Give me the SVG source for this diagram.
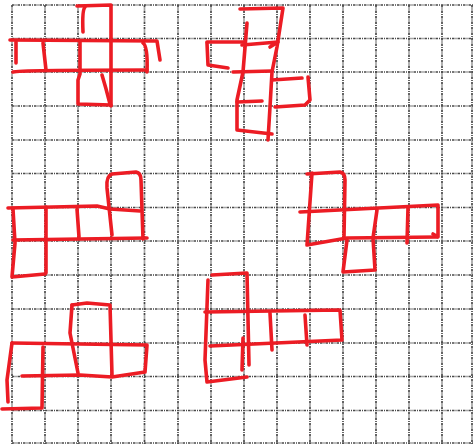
<svg xmlns="http://www.w3.org/2000/svg" width="473" height="444" viewBox="0 0 473 444">
<style>
.g{stroke:#4a4a4a;stroke-width:1.7;stroke-dasharray:2.5 1 1 1;fill:none}
.r{stroke:#ec1c24;stroke-width:3.6;fill:none;stroke-linecap:round;stroke-linejoin:round}
</style>
<rect width="473" height="444" fill="#fff"/>
<g id="grid" class="g">
<path d="M12 5V444M45 5V444M78 5V444M111 5V444M144.5 5V444M178 5V444M211 5V444M244 5V444M277 5V444M310 5V444M343 5V444M376 5V444M409 5V444M442 5V444M472 5V444"/>
<path d="M12 5H473M12 38.5H473M12 72H473M12 106H473M12 140H473M12 173.5H473M12 207.5H473M12 241H473M12 275H473M12 309H473M12 343H473M12 376.5H473M12 410.5H473M12 443H473"/>
</g>
<g id="net1" class="r">
<path d="M77 6L111 5L111 106"/>
<path d="M85 7Q82 10 83 32"/>
<path d="M10 40L157 41L160 60"/>
<path d="M16 42L16 63"/>
<path d="M43 43L46 70"/>
<path d="M80 42L80 74L78 80L78 104L111 105"/>
<path d="M143 43Q148 46 147 72"/>
<path d="M13 72Q18 70 147 70"/>
<path d="M102 75Q106 88 110 104"/>
</g>
<g id="net2" class="r">
<path d="M240 9L283 8L277 47L272 72L270 107L268 140"/>
<path d="M247 23L243 72L237 100L237 130L272 134"/>
<path d="M207 42L245 42"/>
<path d="M242 45L278 42L270 47"/>
<path d="M207 43L208 65L228 68"/>
<path d="M233 72L272 71"/>
<path d="M272 80L302 78"/>
<path d="M308 77L310 100L305 105L275 107"/>
<path d="M237 102L262 101"/>
</g>
<g id="net3" class="r">
<path d="M112 235L107 188Q106 176 112 174L136 172Q141 173 141 180L143 239"/>
<path d="M8 208L97 206L110 209L140 211"/>
<path d="M13 240L147 238"/>
<path d="M13 209L15 243L12 277L45 274"/>
<path d="M46 207L46 273"/>
<path d="M77 209L79 237"/>
</g>
<g id="net4" class="r">
<path d="M307 174L340 172Q345 173 345 180L344 237"/>
<path d="M312 173L307 245L347 238L437 237"/>
<path d="M300 212L438 205L438 237L433 234"/>
<path d="M377 210L373 238L375 270L343 272L347 240"/>
<path d="M408 208L407 243"/>
</g>
<g id="net5" class="r">
<path d="M72 305L87 303L110 305L112 375"/>
<path d="M72 305L70 333L78 373"/>
<path d="M12 343L147 345L145 372L112 377L80 375L22 376"/>
<path d="M12 343L7 380L8 402"/>
<path d="M43 347L42 408L2 409"/>
</g>
<g id="net6" class="r">
<path d="M212 275L247 273L249 365"/>
<path d="M208 280L205 360L207 382L247 377"/>
<path d="M205 312L340 310L342 340L210 346"/>
<path d="M270 313L272 350"/>
<path d="M305 315L307 345"/>
<path d="M243 338L242 370"/>
</g>
</svg>
